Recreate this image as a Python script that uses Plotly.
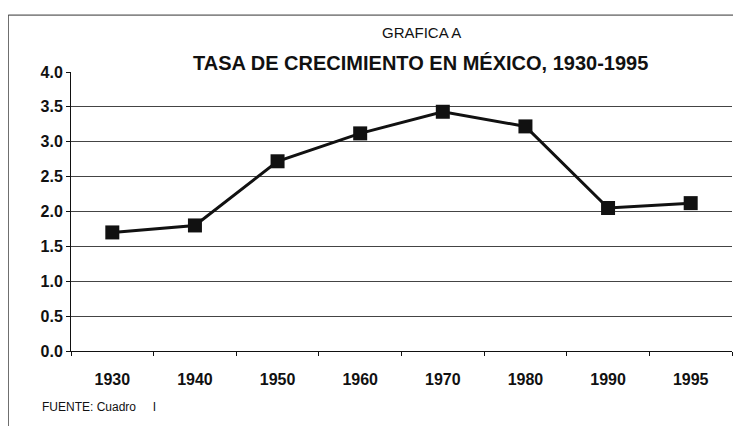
import plotly.graph_objects as go

# Data
years = ["1930", "1940", "1950", "1960", "1970", "1980", "1990", "1995"]
growth_rate = [1.70, 1.80, 2.72, 3.12, 3.43, 3.22, 2.05, 2.12]
y_ticks = [0.0, 0.5, 1.0, 1.5, 2.0, 2.5, 3.0, 3.5, 4.0]

FONT = "Liberation Sans, Arial, sans-serif"

fig = go.Figure()

fig.add_trace(go.Scatter(
    x=years,
    y=growth_rate,
    mode="lines+markers",
    line={"color": "#111111", "width": 3},
    marker={"symbol": "square", "size": 14, "color": "#111111"},
    showlegend=False,
))

# page body has an 8px margin, so the figure is sized to fit the window
fig.update_layout(
    width=733,
    height=418,
    margin={"l": 63, "r": 9, "t": 64, "b": 75},
    paper_bgcolor="white",
    plot_bgcolor="white",
    font={"family": FONT, "color": "#111111", "size": 14},
    xaxis={
        "type": "category",
        "range": [-0.5, 7.5],
        "showgrid": False,
        "showline": True,
        "linecolor": "#111111",
        "linewidth": 1,
        "ticks": "outside",
        "tickson": "boundaries",
        "ticklen": 4,
        "tickcolor": "#111111",
        "ticklabelstandoff": 14,
        "tickfont": {"size": 16, "family": FONT, "weight": "bold"},
        "zeroline": False,
    },
    yaxis={
        "range": [0, 4.0],
        "tickvals": y_ticks,
        "tickformat": ".1f",
        "showgrid": True,
        "gridcolor": "#444444",
        "gridwidth": 1,
        "showline": True,
        "linecolor": "#111111",
        "linewidth": 1,
        "ticks": "outside",
        "ticklen": 4,
        "tickcolor": "#111111",
        "tickfont": {"size": 16, "family": FONT, "weight": "bold"},
        "zeroline": False,
    },
    shapes=[
        # outer frame of the scanned figure
        {"type": "line", "xref": "paper", "yref": "paper",
         "x0": -0.095, "x1": 1.02, "y0": 1.204, "y1": 1.204,
         "line": {"color": "#333333", "width": 1}},
        {"type": "line", "xref": "paper", "yref": "paper",
         "x0": -0.095, "x1": -0.095, "y0": 1.204, "y1": -0.3,
         "line": {"color": "#333333", "width": 1}},
    ],
    annotations=[
        {"text": "GRAFICA A", "xref": "paper", "yref": "paper",
         "x": 0.531, "y": 1.143, "xanchor": "center", "yanchor": "middle",
         "showarrow": False, "font": {"size": 15, "family": FONT}},
        {"text": "<b>TASA DE CRECIMIENTO EN MÉXICO, 1930-1995</b>",
         "xref": "paper", "yref": "paper",
         "x": 0.528, "y": 1.032, "xanchor": "center", "yanchor": "middle",
         "showarrow": False, "font": {"size": 20, "family": FONT}},
        {"text": "FUENTE: Cuadro &nbsp;&nbsp;&nbsp; I", "xref": "paper", "yref": "paper",
         "x": -0.047, "y": -0.201, "xanchor": "left", "yanchor": "middle",
         "showarrow": False, "font": {"size": 12, "family": FONT}},
    ],
)

fig.write_html("out.html")
